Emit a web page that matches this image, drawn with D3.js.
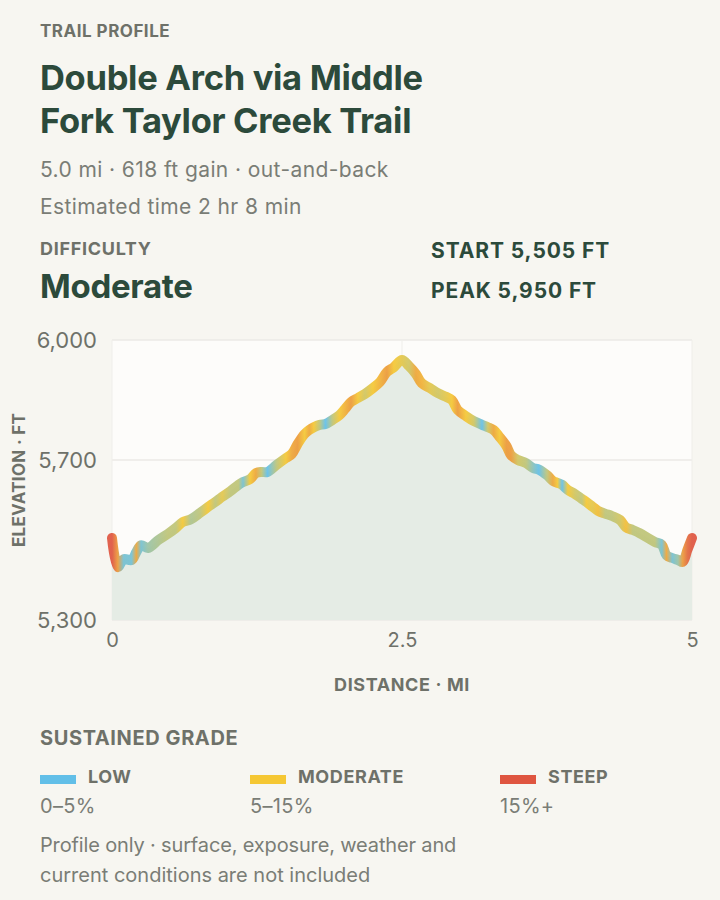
<!DOCTYPE html>
<html>
<head>
<meta charset="utf-8">
<script src="https://cdn.jsdelivr.net/npm/d3@7"></script>
<style>
  html, body { margin: 0; padding: 0; background: #f7f6f1; }
  svg { display: block; font-family: Inter, "Noto Sans", sans-serif; }
</style>
</head>
<body>
<svg id="chart" width="720" height="900"></svg>
<script>
// ---- data ----
const distanceMi = [0.00,0.05,0.10,0.17,0.21,0.25,0.31,0.40,0.48,0.55,0.61,0.68,0.76,0.83,0.89,0.95,1.02,1.09,1.13,1.19,1.24,1.29,1.34,1.42,1.50,1.55,1.60,1.66,1.70,1.74,1.79,1.84,1.90,1.96,2.01,2.06,2.12,2.18,2.25,2.31,2.37,2.43,2.50,2.56,2.62,2.67,2.74,2.81,2.88,2.93,2.98,3.05,3.12,3.19,3.24,3.29,3.34,3.40,3.44,3.50,3.57,3.63,3.68,3.75,3.80,3.84,3.88,3.93,3.99,4.05,4.09,4.14,4.19,4.25,4.31,4.38,4.43,4.49,4.55,4.62,4.68,4.74,4.78,4.83,4.88,4.92,4.96,5.00];
const elevationFt = [5505,5432,5452,5450,5470,5487,5480,5500,5515,5530,5545,5552,5568,5583,5595,5608,5622,5638,5645,5652,5667,5670,5670,5688,5705,5715,5740,5765,5775,5782,5788,5790,5800,5812,5828,5845,5855,5865,5880,5895,5920,5932,5950,5935,5915,5892,5880,5867,5858,5850,5825,5810,5797,5788,5782,5775,5758,5735,5712,5700,5692,5680,5676,5662,5648,5643,5638,5625,5615,5603,5595,5584,5573,5566,5560,5550,5532,5525,5517,5505,5495,5488,5462,5455,5450,5445,5475,5505];
const gradePct = [22,14,3,3,13,3,5,6,7,7,10,6,7,10,7,9,7,7,3,10,13,7,2,7,10,13,14,10,13,10,7,2,7,10,12,14,10,8,10,12,14,10,9,8,13,12,9,8,9,10,14,10,8,2,8,13,10,14,14,8,7,4,2,7,13,10,2,10,8,7,10,9,11,7,7,8,11,7,7,7,7,3,13,3,5,14,18,22];
const yTicks = [5300, 5700, 6000];
const xTicks = [0, 2.5, 5];
const legendNames = ["LOW", "MODERATE", "STEEP"];
const legendRanges = ["0–5%", "5–15%", "15%+"];
const legendColors = ["#62bfe8", "#f5c733", "#df5540"];

// ---- layout ----
const svg = d3.select("#chart");
const plot = {left: 112, right: 692, top: 340, bottom: 620};
const dark = "#2c4a3b", gray = "#6e7169", soft = "#7a7d76";

function txt(x, y, s, size, weight, color, anchor) {
  return svg.append("text").attr("x", x).attr("y", y).text(s)
    .attr("font-size", size).attr("font-weight", weight)
    .attr("fill", color).attr("text-anchor", anchor || "start");
}

// header
txt(40, 37, "TRAIL PROFILE", 17, 700, gray).attr("letter-spacing", 0.5);
txt(40, 90, "Double Arch via Middle", 34.5, 700, dark).attr("letter-spacing", -0.3);
txt(40, 133, "Fork Taylor Creek Trail", 34.5, 700, dark).attr("letter-spacing", -0.3);
txt(40, 177, "5.0 mi · 618 ft gain · out-and-back", 21, 400, soft).attr("letter-spacing", 0.4);
txt(40, 214, "Estimated time 2 hr 8 min", 21, 400, soft).attr("letter-spacing", 0.4);
txt(40, 255, "DIFFICULTY", 18, 700, gray).attr("letter-spacing", 0.7);
txt(40, 298, "Moderate", 33, 700, dark).attr("letter-spacing", -0.3);
txt(431, 258, "START 5,505 FT", 21, 700, dark).attr("letter-spacing", 0.9);
txt(431, 298, "PEAK 5,950 FT", 21, 700, dark).attr("letter-spacing", 0.9);

// scales
const x = d3.scaleLinear().domain([0, 5]).range([plot.left, plot.right]);
const y = d3.scaleLinear().domain([5300, 6000]).range([plot.bottom, plot.top]);
const gradeColor = d3.scaleLinear().domain([2, 10, 20])
  .range([legendColors[0], legendColors[1], legendColors[2]]).clamp(true)
  .interpolate(d3.interpolateRgb);

// plot background
svg.append("rect").attr("x", plot.left).attr("y", plot.top)
  .attr("width", plot.right - plot.left).attr("height", plot.bottom - plot.top)
  .attr("fill", "#fdfcfa");

// grid
svg.append("g").selectAll("line").data(yTicks).join("line")
  .attr("x1", plot.left).attr("x2", plot.right)
  .attr("y1", d => y(d)).attr("y2", d => y(d))
  .attr("stroke", "#ebeae6").attr("stroke-width", 1.5);
svg.append("g").selectAll("line").data(xTicks).join("line")
  .attr("x1", d => x(d)).attr("x2", d => x(d))
  .attr("y1", plot.top).attr("y2", plot.bottom)
  .attr("stroke", "#efeeea").attr("stroke-width", 1);

const pts = distanceMi.map((d, i) => ({d, e: elevationFt[i], g: gradePct[i]}));

// area
const area = d3.area().x(p => x(p.d)).y0(plot.bottom).y1(p => y(p.e))
  .curve(d3.curveCatmullRom.alpha(0.5));
svg.append("path").datum(pts).attr("d", area).attr("fill", "#e5ece5");

// gradient
const defs = svg.append("defs");
const grad = defs.append("linearGradient").attr("id", "gradeGrad")
  .attr("gradientUnits", "userSpaceOnUse")
  .attr("x1", x(0)).attr("x2", x(5)).attr("y1", 0).attr("y2", 0);
grad.selectAll("stop").data(pts).join("stop")
  .attr("offset", p => p.d / 5)
  .attr("stop-color", p => gradeColor(p.g));

const line = d3.line().x(p => x(p.d)).y(p => y(p.e))
  .curve(d3.curveCatmullRom.alpha(0.5));
svg.append("path").datum(pts).attr("d", line)
  .attr("fill", "none").attr("stroke", "url(#gradeGrad)")
  .attr("stroke-width", 10).attr("stroke-linecap", "round").attr("stroke-linejoin", "round")
  .attr("stroke-opacity", 0.92);

// axes
const yAxis = svg.append("g").attr("transform", `translate(${plot.left - 15},0)`)
  .call(d3.axisLeft(y).tickValues(yTicks).tickFormat(d3.format(",")).tickSize(0));
yAxis.select(".domain").remove();
yAxis.selectAll("text").attr("font-size", 22).attr("fill", gray)
  .attr("font-family", "Inter, sans-serif").attr("dy", "0.36em").attr("x", 0);

const xAxis = svg.append("g").attr("transform", `translate(0,${plot.bottom + 12})`)
  .call(d3.axisBottom(x).tickValues(xTicks).tickFormat(d => String(d)).tickSize(0));
xAxis.select(".domain").remove();
xAxis.selectAll("text").attr("font-size", 20).attr("fill", gray)
  .attr("font-family", "Inter, sans-serif").attr("dy", "0.75em").attr("y", 0);

txt(402, 691, "DISTANCE · MI", 18, 700, gray, "middle").attr("letter-spacing", 0.6);
svg.append("text").attr("transform", "translate(25,480) rotate(-90)")
  .attr("text-anchor", "middle").attr("font-size", 17).attr("font-weight", 700)
  .attr("fill", gray).attr("letter-spacing", 0.3).text("ELEVATION · FT");

// legend
txt(40, 745, "SUSTAINED GRADE", 20, 700, gray).attr("letter-spacing", 0.6);
const legX = [40, 250, 500];
const lg = svg.append("g").selectAll("g").data(legendNames).join("g")
  .attr("transform", (d, i) => `translate(${legX[i]},0)`);
lg.append("rect").attr("x", 0).attr("y", 775).attr("width", 36).attr("height", 9)
  .attr("fill", (d, i) => legendColors[i]);
lg.append("text").attr("x", 48).attr("y", 783).text(d => d)
  .attr("font-size", 18).attr("font-weight", 700).attr("fill", gray).attr("letter-spacing", 0.6);
lg.append("text").attr("x", 0).attr("y", 813).text((d, i) => legendRanges[i])
  .attr("font-size", 20).attr("fill", soft).attr("letter-spacing", 0.3);

txt(40, 852, "Profile only · surface, exposure, weather and", 20, 400, soft).attr("letter-spacing", -0.15);
txt(40, 882, "current conditions are not included", 20, 400, soft).attr("letter-spacing", 0);
</script>
</body>
</html>
